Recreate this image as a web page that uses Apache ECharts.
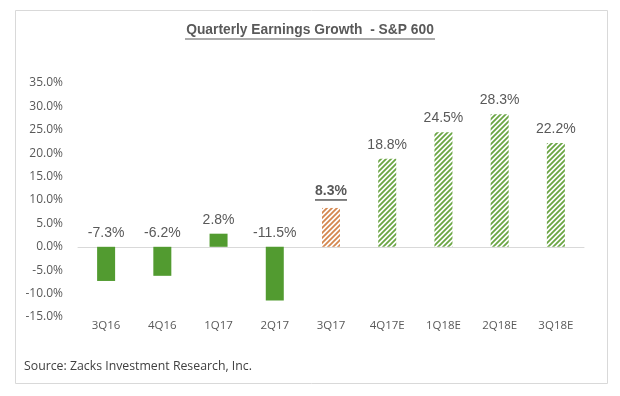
<!DOCTYPE html>
<html>
<head>
<meta charset="utf-8">
<script src="https://cdn.jsdelivr.net/npm/echarts@6/dist/echarts.min.js"></script>
<style>
  html, body { margin: 0; padding: 0; background: #fff; }
  #chart { width: 620px; height: 396px; }
</style>
</head>
<body>
<div id="chart"></div>
<script>
// quarters and growth (%), actual vs estimate
const categories = ["3Q16", "4Q16", "1Q17", "2Q17", "3Q17", "4Q17E", "1Q18E", "2Q18E", "3Q18E"];
const growth = [-7.3, -6.2, 2.8, -11.5, 8.3, 18.8, 24.5, 28.3, 22.2];
// 0 = reported, 1 = current quarter, 2 = estimate
const kind = [0, 0, 0, 0, 1, 2, 2, 2, 2];
const yTicks = { min: -15, max: 35, step: 5 };

const GREEN = "#529b30";
const TEXT = "#595959";

// diagonal hatch fill
function hatch(color) {
  const c = document.createElement("canvas");
  const s = 5;
  c.width = s; c.height = s;
  const ctx = c.getContext("2d");
  ctx.fillStyle = "#fff";
  ctx.fillRect(0, 0, s, s);
  ctx.strokeStyle = color;
  ctx.lineWidth = 1.8;
  ctx.beginPath();
  ctx.moveTo(-1, s + 1); ctx.lineTo(s + 1, -1);
  ctx.moveTo(-1, 1); ctx.lineTo(1, -1);
  ctx.moveTo(s - 1, s + 1); ctx.lineTo(s + 1, s - 1);
  ctx.stroke();
  return { image: c, repeat: "repeat" };
}

const fills = [GREEN, hatch("#d4874f"), hatch("#6aa543")];

const barData = growth.map((v, i) => {
  const item = { value: v, itemStyle: { color: fills[kind[i]] } };
  if (kind[i] === 1) {
    item.label = {
      formatter: "{b|{c}%}\n{u|}",
      rich: {
        b: { fontWeight: "bold", fontSize: 14, color: TEXT, fontFamily: "Arial", lineHeight: 16 },
        u: { width: 32, height: 1.5, backgroundColor: TEXT, lineHeight: 2 }
      }
    };
  }
  return item;
});

const chart = echarts.init(document.getElementById("chart"));
chart.setOption({
  animation: false,
  backgroundColor: "#fff",
  title: {
    text: "{t|Quarterly Earnings Growth  - S&P 600}\n{u|}",
    left: "center",
    top: 18,
    textStyle: {
      rich: {
        t: { fontFamily: "Arial", fontWeight: "bold", fontSize: 13.8, color: TEXT, lineHeight: 15 },
        u: { width: 250, height: 1.2, backgroundColor: TEXT, lineHeight: 2 }
      }
    }
  },
  graphic: [
    {
      type: "rect",
      left: 13, top: 8,
      shape: { width: 592, height: 373 },
      style: { fill: "none", stroke: "#d9d9d9", lineWidth: 1 },
      silent: true
    },
    {
      type: "text",
      left: 24, top: 360,
      style: { text: "Source: Zacks Investment Research, Inc.", fontFamily: "Open Sans", fontSize: 12.3, fill: "#404040" }
    }
  ],
  grid: { left: 78, right: 36, top: 83, bottom: 79 },
  xAxis: {
    type: "category",
    data: categories,
    axisLine: { onZero: true, lineStyle: { color: "#d9d9d9" } },
    axisTick: { show: false },
    axisLabel: { color: TEXT, fontFamily: "Open Sans", fontSize: 11.5, margin: 3 },
    position: "bottom"
  },
  yAxis: {
    type: "value",
    min: yTicks.min, max: yTicks.max, interval: yTicks.step,
    axisLine: { show: false },
    axisTick: { show: false },
    splitLine: { show: false },
    axisLabel: {
      color: TEXT, fontFamily: "Open Sans", fontSize: 12, margin: 15,
      formatter: (v) => v.toFixed(1) + "%"
    }
  },
  series: [{
    type: "bar",
    data: barData,
    barWidth: 18,
    label: {
      show: true,
      position: "top",
      distance: 7,
      color: TEXT,
      fontFamily: "Arial",
      fontSize: 14,
      formatter: (p) => p.value.toFixed(1) + "%"
    }
  }]
});
</script>
</body>
</html>
